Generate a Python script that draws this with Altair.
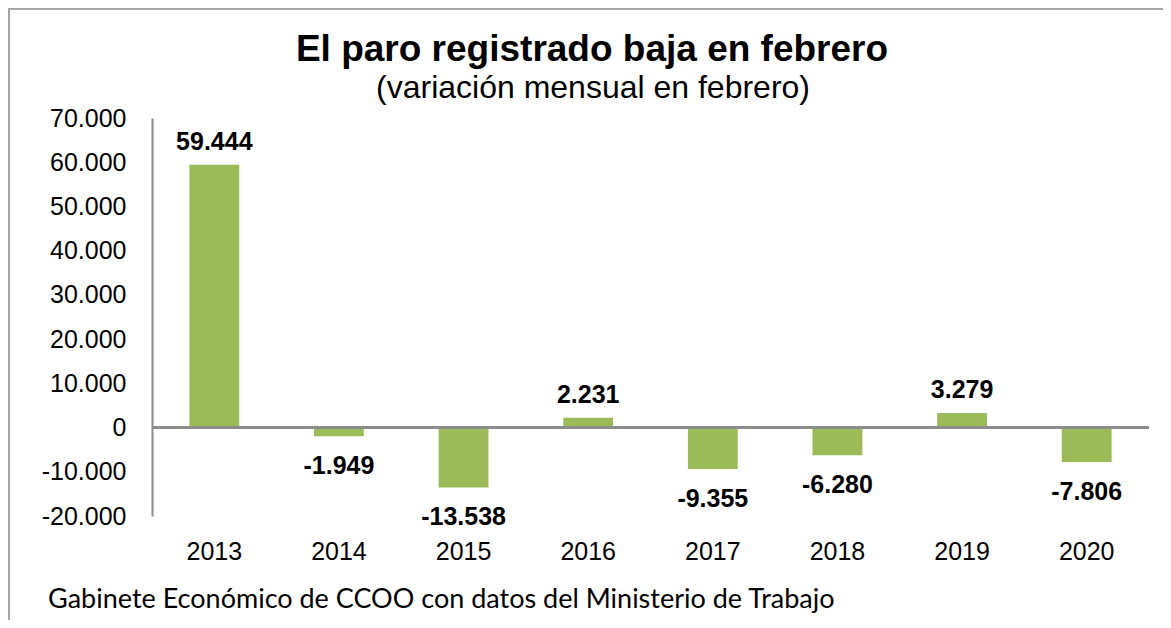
import altair as alt
import pandas as pd

years = ["2013", "2014", "2015", "2016", "2017", "2018", "2019", "2020"]
values = [59444, -1949, -13538, 2231, -9355, -6280, 3279, -7806]
y_ticks = [-20000, -10000, 0, 10000, 20000, 30000, 40000, 50000, 60000, 70000]

title_text = "El paro registrado baja en febrero"
subtitle_text = "(variación mensual en febrero)"
footer_text = "Gabinete Económico de CCOO con datos del Ministerio de Trabajo"

BAR = "#9bbb59"
AXIS = "#8c8c8c"
FONT = "Liberation Sans"

df = pd.DataFrame({
    "year": years,
    "value": values,
    "label": [f"{v:,}".replace(",", ".") for v in values],
})

x_enc = alt.X(
    "year:N", sort=years,
    scale=alt.Scale(paddingInner=0.6, paddingOuter=0.3),
    axis=alt.Axis(title=None, domain=False, ticks=False, labelAngle=0,
                  labelFontSize=25, labelFont=FONT, labelColor="black",
                  labelPadding=23),
)
y_enc = alt.Y(
    "value:Q",
    scale=alt.Scale(domain=[-20000, 70000], nice=False, zero=False),
    axis=alt.Axis(title=None, values=y_ticks, grid=False, ticks=False,
                  domainColor=AXIS, domainWidth=2,
                  labelFontSize=25, labelFont=FONT, labelColor="black",
                  labelPadding=26,
                  labelExpr="replace(replace(format(datum.value, ','), ',', '.'), '\u2212', '-')"),
)

base = alt.Chart(df)

bars = base.mark_bar(color=BAR).encode(x=x_enc, y=y_enc)

zero_line = base.mark_rule(color=AXIS, strokeWidth=2).encode(y=alt.datum(0))

pos_labels = base.transform_filter("datum.value >= 0").mark_text(
    fontSize=25, fontWeight="bold", font=FONT, color="black",
    baseline="middle", dy=-23,
).encode(x=x_enc, y=y_enc, text="label:N")

neg_labels = base.transform_filter("datum.value < 0").mark_text(
    fontSize=25, fontWeight="bold", font=FONT, color="black",
    baseline="middle", dy=30,
).encode(x=x_enc, y=y_enc, text="label:N")

title_mark = alt.Chart(pd.DataFrame({"t": [title_text]})).mark_text(
    fontSize=37, fontWeight="bold", font=FONT, color="black",
    baseline="middle", align="center",
).encode(text="t:N", x=alt.value(440), y=alt.value(-68))

subtitle_mark = alt.Chart(pd.DataFrame({"t": [subtitle_text]})).mark_text(
    fontSize=32, font=FONT, color="black", baseline="middle", align="center",
).encode(text="t:N", x=alt.value(441), y=alt.value(-30))

footer_mark = alt.Chart(pd.DataFrame({"t": [footer_text]})).mark_text(
    fontSize=27, font="Lato", color="black", baseline="middle", align="left",
).encode(text="t:N", x=alt.value(-104), y=alt.value(482))

border_top = alt.Chart(pd.DataFrame({"t": [0]})).mark_rule(
    color="#a6a6a6", strokeWidth=2
).encode(x=alt.value(-144), x2=alt.value(1011), y=alt.value(-109))

border_left = alt.Chart(pd.DataFrame({"t": [0]})).mark_rule(
    color="#a6a6a6", strokeWidth=2
).encode(x=alt.value(-143), y=alt.value(-110), y2=alt.value(502))

chart = alt.layer(
    bars, zero_line, pos_labels, neg_labels,
    title_mark, subtitle_mark, footer_mark, border_top, border_left,
).properties(
    width=997, height=398,
    autosize=alt.AutoSizeParams(type="none"),
    padding={"left": 144, "top": 110, "right": 14, "bottom": 104},
    background="white",
).configure_view(stroke=None)

chart.save("out.html", embed_options={"renderer": "svg", "actions": False})
